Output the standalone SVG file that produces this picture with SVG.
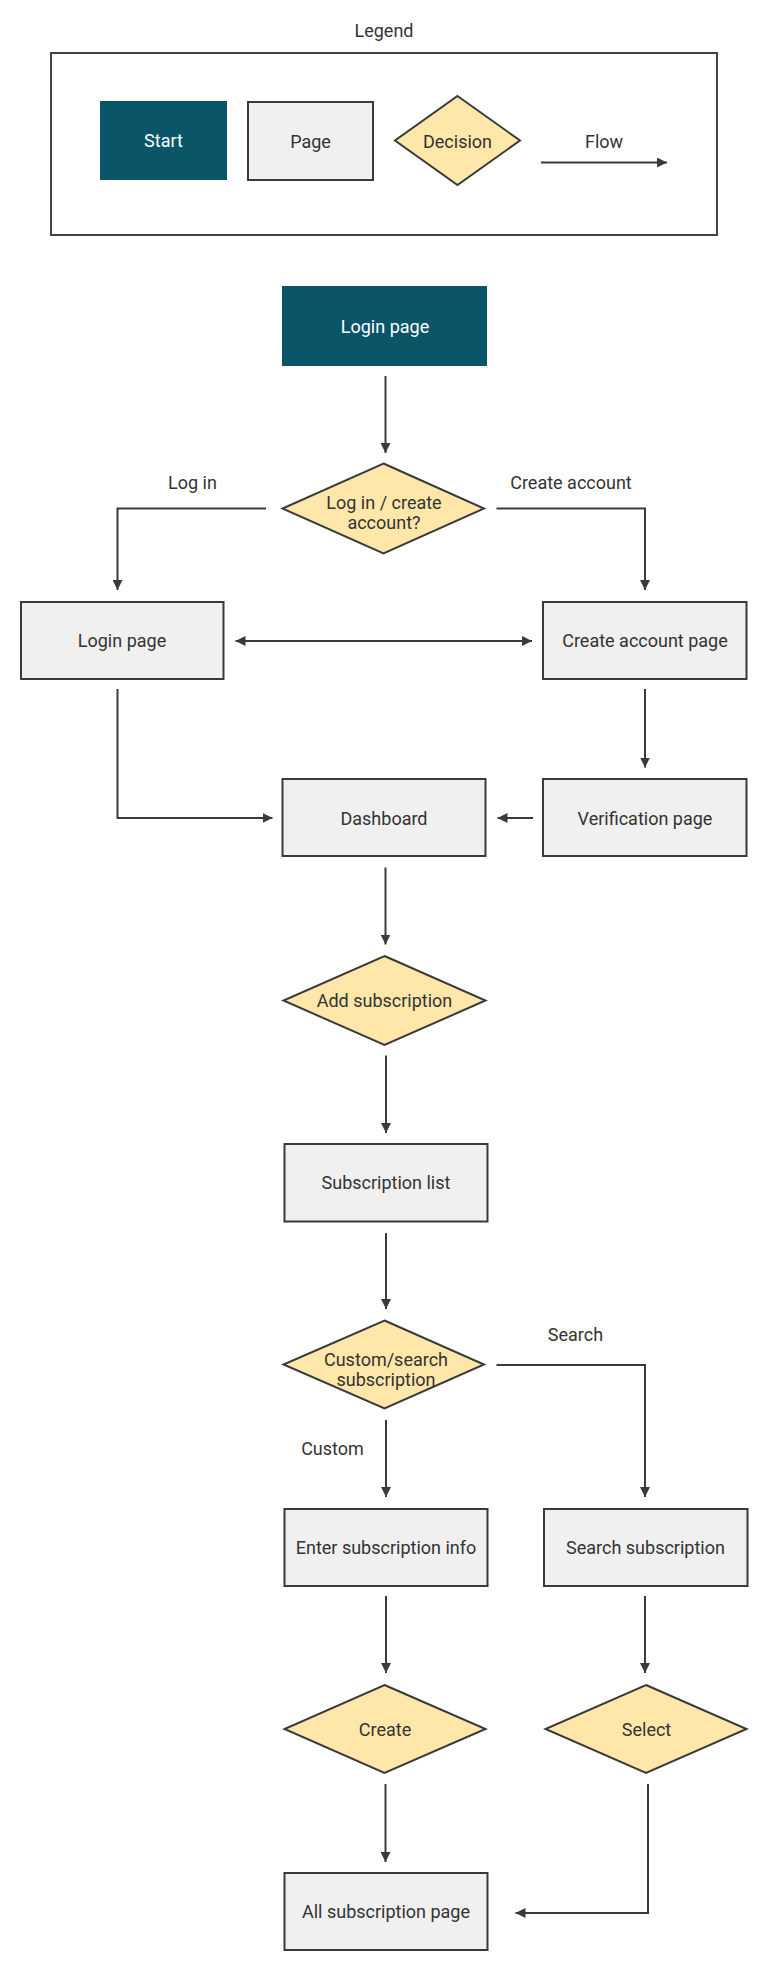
<svg xmlns="http://www.w3.org/2000/svg" width="768" height="1971" viewBox="0 0 768 1971">
<style>
text{font-family:Roboto,"Liberation Sans",sans-serif;font-size:18px;fill:#333;text-anchor:middle}
.start{fill:#0B5569}
.start-t{fill:#fff}
.page{fill:#F0F0F0;stroke:#3a3a3a;stroke-width:2}
.dec{fill:#FFE7AA;stroke:#3a3a3a;stroke-width:2}
.legend{fill:#fff;stroke:#444;stroke-width:2}
.conn{fill:none;stroke:#3a3a3a;stroke-width:2;marker-end:url(#ah)}
</style>
<defs>
<marker id="ah" viewBox="0 0 10 10" refX="10" refY="5" markerWidth="10" markerHeight="10" markerUnits="userSpaceOnUse" orient="auto-start-reverse">
<path d="M0,0 L10,5 L0,10 z" fill="#3a3a3a"/>
</marker>
</defs>
<rect width="768" height="1971" fill="#fff"/>

<g id="legend">
<text x="384" y="37">Legend</text>
<rect class="legend" x="51" y="53" width="666" height="182"/>
<g id="legend-start"><rect class="start" x="100" y="101" width="127" height="79"/><text class="start-t" x="163.5" y="147">Start</text></g>
<g id="legend-page"><rect class="page" x="248" y="102" width="125" height="78"/><text x="310.5" y="148">Page</text></g>
<g id="legend-decision"><polygon class="dec" points="457.5,96 520,140.5 457.5,185 395,140.5"/><text x="457.5" y="148">Decision</text></g>
<g id="legend-flow"><text x="604" y="148">Flow</text><line class="conn" x1="541" y1="162.5" x2="667" y2="162.5"/></g>
</g>

<g id="connectors">
<line class="conn" x1="385.5" y1="376" x2="385.5" y2="453"/>
<polyline class="conn" points="266,508.5 117.5,508.5 117.5,590"/>
<polyline class="conn" points="496.5,508.5 645,508.5 645,590"/>
<line class="conn" x1="235.5" y1="641" x2="532" y2="641" style="marker-start:url(#ah)"/>
<polyline class="conn" points="117.5,689 117.5,818 272.5,818"/>
<line class="conn" x1="645" y1="689" x2="645" y2="767.5"/>
<line class="conn" x1="533" y1="818" x2="497.5" y2="818"/>
<line class="conn" x1="385.5" y1="867.5" x2="385.5" y2="944.5"/>
<line class="conn" x1="386" y1="1055.5" x2="386" y2="1133"/>
<line class="conn" x1="386" y1="1233" x2="386" y2="1309"/>
<polyline class="conn" points="496.5,1365 645,1365 645,1497"/>
<line class="conn" x1="386" y1="1420" x2="386" y2="1497"/>
<line class="conn" x1="386" y1="1596" x2="386" y2="1673"/>
<line class="conn" x1="645" y1="1596" x2="645" y2="1673"/>
<line class="conn" x1="385.5" y1="1784" x2="385.5" y2="1862"/>
<polyline class="conn" points="648,1784 648,1913 515.5,1913"/>
<text x="192.5" y="489">Log in</text>
<text x="571" y="489">Create account</text>
<text x="575.5" y="1341">Search</text>
<text x="332.5" y="1455">Custom</text>
</g>

<g id="n-start"><rect class="start" x="282" y="286" width="205" height="80"/><text class="start-t" x="385" y="332.5">Login page</text></g>
<g id="n-choice"><polygon class="dec" points="383.5,463.5 484,508.5 383.5,553.5 282.5,508.5"/><text x="384" y="509">Log in / create</text><text x="384" y="529">account?</text></g>
<g id="n-login"><rect class="page" x="21" y="602" width="202.5" height="77"/><text x="122" y="647">Login page</text></g>
<g id="n-create"><rect class="page" x="543" y="602" width="203.5" height="77"/><text x="645" y="647">Create account page</text></g>
<g id="n-dashboard"><rect class="page" x="282.5" y="779" width="203" height="77"/><text x="384" y="824.5">Dashboard</text></g>
<g id="n-verify"><rect class="page" x="543" y="779" width="203.5" height="77"/><text x="645" y="824.5">Verification page</text></g>
<g id="n-add"><polygon class="dec" points="384.5,956 485.5,1000.5 384.5,1045 283.5,1000.5"/><text x="384.5" y="1007">Add subscription</text></g>
<g id="n-list"><rect class="page" x="284.5" y="1144" width="203" height="77.5"/><text x="386" y="1189">Subscription list</text></g>
<g id="n-custom"><polygon class="dec" points="384.5,1320.5 484,1364.5 384.5,1408.5 283.5,1364.5"/><text x="386" y="1365.5">Custom/search</text><text x="386" y="1386">subscription</text></g>
<g id="n-enter"><rect class="page" x="284.5" y="1509" width="203" height="77"/><text x="386" y="1554">Enter subscription info</text></g>
<g id="n-search"><rect class="page" x="544" y="1509" width="203.5" height="77"/><text x="645.5" y="1554">Search subscription</text></g>
<g id="n-createdec"><polygon class="dec" points="384.5,1685 485.5,1729 384.5,1773 284.5,1729"/><text x="385" y="1735.5">Create</text></g>
<g id="n-select"><polygon class="dec" points="646,1685 746.5,1729 646,1773 545.5,1729"/><text x="646.5" y="1735.5">Select</text></g>
<g id="n-all"><rect class="page" x="284.5" y="1873" width="203" height="77"/><text x="386" y="1918">All subscription page</text></g>
</svg>
